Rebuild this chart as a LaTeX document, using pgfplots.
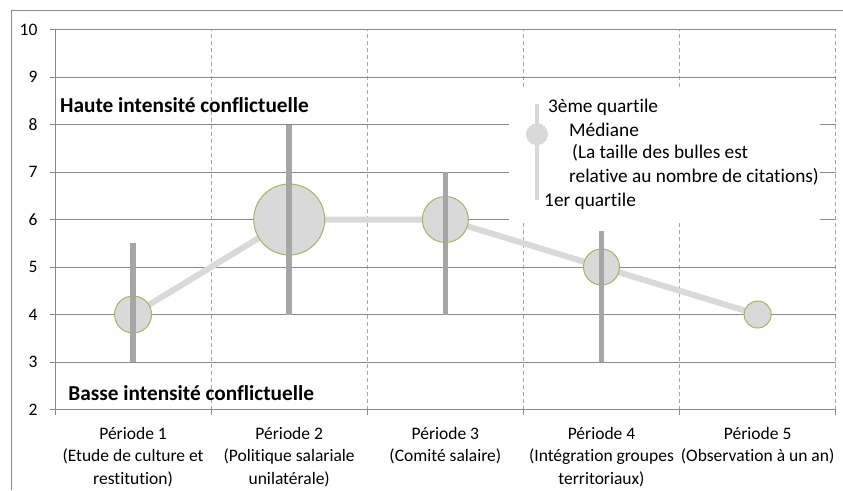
\documentclass[border=0pt]{standalone}
\usepackage{pgfplots}
\pgfplotsset{compat=1.18}
\usepackage{fontspec}
\setmainfont[Ligatures=NoCommon]{Carlito}
\definecolor{gridc}{HTML}{898989}
\definecolor{dashc}{HTML}{A6A6A6}
\definecolor{bubfill}{HTML}{D9D9D9}
\definecolor{bubedge}{HTML}{9BBB59}
\definecolor{barc}{HTML}{A6A6A6}
\pgfplotstableread{
x med r
1 4 18.5
2 6 35.5
3 6 23
4 5 18
5 4 13.5
}\medians
\begin{document}
\begin{tikzpicture}[x=1pt,y=1pt]
\path[use as bounding box] (0,0) rectangle (843,490);
\draw[gridc, line width=1pt] (11,0) -- (11,479.3) -- (843,479.3);
\begin{axis}[
  clip marker paths=true,
  at={(55pt,80.5pt)}, anchor=south west,
  scale only axis, width=780.7pt, height=380pt,
  xmin=0.5, xmax=5.5, ymin=2, ymax=10,
  axis x line*=bottom, axis y line*=left,
  axis line style={gridc, line width=0.9pt},
  xtick={1,...,5},
  minor xtick={0.5,1.5,...,5.5},
  xminorgrids=true,
  minor x grid style={dashc, line width=0.8pt, dash pattern=on 4pt off 3pt},
  ytick={2,...,10},
  ymajorgrids=true,
  major y grid style={gridc, line width=0.8pt},
  tick align=outside,
  major tick length=5pt, minor tick length=5pt,
  major x tick style={draw=none},
  tick style={gridc, line width=0.9pt},
  xticklabels={{Période 1\\(Etude de culture et\\restitution)},{Période 2\\(Politique salariale\\unilatérale)},{Période 3\\(Comité salaire)},{Période 4\\(Intégration groupes\\territoriaux)},{Période 5\\(Observation à un an)}},
  xticklabel style={align=center, font=\fontsize{17.5}{22.5}\selectfont, yshift=-9pt},
  yticklabel style={font=\fontsize{17.5}{20}\selectfont, xshift=-9pt},
  /pgf/number format/assume math mode=true,
  clip=false,
]
% median line
\addplot[bubfill, line width=6pt, no marks] table[x=x, y=med] \medians;
% bubbles
\addplot[only marks, mark=*, scatter,
  scatter/use mapped color={draw=bubedge, fill=bubfill},
  mark options={line width=1pt},
  visualization depends on={\thisrow{r} \as \rad},
  scatter/@pre marker code/.append style={/tikz/mark size=\rad}]
  table[x=x, y=med] \medians;
% quartile bars (above the bubbles)
\addplot[barc, line width=5.5pt, no marks] coordinates {(1,3) (1,5.5)};
\addplot[barc, line width=5.5pt, no marks] coordinates {(2,4) (2,8)};
\addplot[barc, line width=5.5pt, no marks] coordinates {(3,4) (3,7)};
\addplot[barc, line width=5.5pt, no marks] coordinates {(4,3) (4,5.75)};
% legend box
\fill[white] (axis cs:3.408,5.947) rectangle (axis cs:5.399,8.768);
\addplot[bubfill, line width=4.5pt, no marks] coordinates {(3.587,6.411) (3.587,8.442)};
\addplot[only marks, mark=*, mark size=10.5, bubfill, mark options={fill=bubfill, draw=bubfill, line width=0pt}] coordinates {(3.587,7.80)};
\begin{scope}[every node/.style={anchor=west, inner sep=0pt, font=\fontsize{19.3}{23}\selectfont}]
\node at (axis cs:3.657,8.368) {3ème quartile};
\node at (axis cs:3.792,7.884) {Médiane};
\node at (axis cs:3.811,7.40) {(La taille des bulles est};
\node at (axis cs:3.792,6.895) {relative au nombre de citations)};
\node at (axis cs:3.632,6.389) {1er quartile};
\end{scope}
\node[anchor=west, inner sep=0pt, font=\fontsize{21.3}{25}\selectfont\bfseries] at (axis cs:0.532,8.41) {Haute intensité conflictuelle};
\node[anchor=west, inner sep=0pt, font=\fontsize{21.3}{25}\selectfont\bfseries] at (axis cs:0.585,2.354) {Basse intensité conflictuelle};
\end{axis}
\end{tikzpicture}
\end{document}
